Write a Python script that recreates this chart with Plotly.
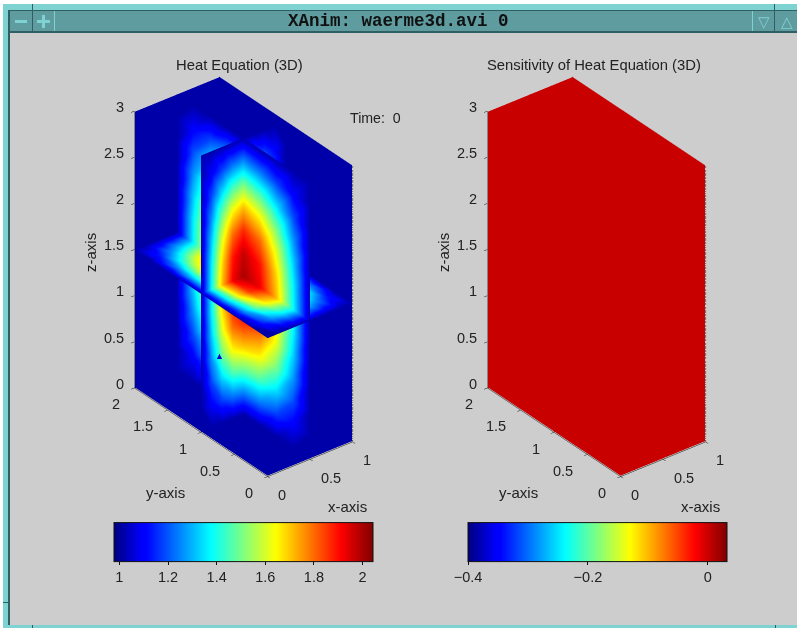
import plotly.graph_objects as go

# ---------- data ----------
x_nodes = [0, .125, .25, .375, .5, .625, .75, .875, 1]
y_nodes = [0, .25, .5, .75, 1, 1.25, 1.5, 1.75, 2]
z_nodes = [0, .25, .5, .75, 1, 1.25, 1.5, 1.75, 2, 2.25, 2.5, 2.75, 3]

# temperature on the plane x = 0.5 (rows z, columns y)
heat_x05 = [
    [1.02, 1.02, 1.02, 1.02, 1.02, 1.02, 1.02, 1.02, 1.02],
    [1.02, 1.10, 1.18, 1.24, 1.26, 1.24, 1.18, 1.10, 1.02],
    [1.02, 1.19, 1.35, 1.46, 1.50, 1.46, 1.35, 1.19, 1.02],
    [1.02, 1.27, 1.50, 1.65, 1.71, 1.65, 1.50, 1.27, 1.02],
    [1.02, 1.33, 1.61, 1.80, 1.87, 1.80, 1.61, 1.33, 1.02],
    [1.02, 1.37, 1.68, 1.89, 1.97, 1.89, 1.68, 1.37, 1.02],
    [1.02, 1.38, 1.71, 1.92, 2.00, 1.92, 1.71, 1.38, 1.02],
    [1.02, 1.37, 1.68, 1.89, 1.97, 1.89, 1.68, 1.37, 1.02],
    [1.02, 1.33, 1.61, 1.80, 1.87, 1.80, 1.61, 1.33, 1.02],
    [1.02, 1.27, 1.50, 1.65, 1.71, 1.65, 1.50, 1.27, 1.02],
    [1.02, 1.19, 1.35, 1.46, 1.50, 1.46, 1.35, 1.19, 1.02],
    [1.02, 1.10, 1.18, 1.24, 1.26, 1.24, 1.18, 1.10, 1.02],
    [1.02, 1.02, 1.02, 1.02, 1.02, 1.02, 1.02, 1.02, 1.02],
]
# temperature on the plane y = 1 (rows z, columns x)
heat_y1 = [
    [1.02, 1.02, 1.02, 1.02, 1.02, 1.02, 1.02, 1.02, 1.02],
    [1.02, 1.10, 1.18, 1.24, 1.26, 1.24, 1.18, 1.10, 1.02],
    [1.02, 1.19, 1.35, 1.46, 1.50, 1.46, 1.35, 1.19, 1.02],
    [1.02, 1.27, 1.50, 1.65, 1.71, 1.65, 1.50, 1.27, 1.02],
    [1.02, 1.33, 1.61, 1.80, 1.87, 1.80, 1.61, 1.33, 1.02],
    [1.02, 1.37, 1.68, 1.89, 1.97, 1.89, 1.68, 1.37, 1.02],
    [1.02, 1.38, 1.71, 1.92, 2.00, 1.92, 1.71, 1.38, 1.02],
    [1.02, 1.37, 1.68, 1.89, 1.97, 1.89, 1.68, 1.37, 1.02],
    [1.02, 1.33, 1.61, 1.80, 1.87, 1.80, 1.61, 1.33, 1.02],
    [1.02, 1.27, 1.50, 1.65, 1.71, 1.65, 1.50, 1.27, 1.02],
    [1.02, 1.19, 1.35, 1.46, 1.50, 1.46, 1.35, 1.19, 1.02],
    [1.02, 1.10, 1.18, 1.24, 1.26, 1.24, 1.18, 1.10, 1.02],
    [1.02, 1.02, 1.02, 1.02, 1.02, 1.02, 1.02, 1.02, 1.02],
]
# temperature on the plane z = 1.5 (rows y, columns x)
heat_z15 = [
    [1.02, 1.02, 1.02, 1.02, 1.02, 1.02, 1.02, 1.02, 1.02],
    [1.02, 1.15, 1.27, 1.35, 1.38, 1.35, 1.27, 1.15, 1.02],
    [1.02, 1.27, 1.50, 1.65, 1.71, 1.65, 1.50, 1.27, 1.02],
    [1.02, 1.35, 1.65, 1.85, 1.92, 1.85, 1.65, 1.35, 1.02],
    [1.02, 1.38, 1.71, 1.92, 2.00, 1.92, 1.71, 1.38, 1.02],
    [1.02, 1.35, 1.65, 1.85, 1.92, 1.85, 1.65, 1.35, 1.02],
    [1.02, 1.27, 1.50, 1.65, 1.71, 1.65, 1.50, 1.27, 1.02],
    [1.02, 1.15, 1.27, 1.35, 1.38, 1.35, 1.27, 1.15, 1.02],
    [1.02, 1.02, 1.02, 1.02, 1.02, 1.02, 1.02, 1.02, 1.02],
]
wall_heat = 1.02       # value on the back walls (deep blue)
sensitivity = 0.0      # value of the sensitivity volume, all walls

heat_range = [0.98, 2.045]
sens_range = [-0.4, 0.032]
heat_ticks = [1, 1.2, 1.4, 1.6, 1.8, 2]
sens_ticks = [-0.4, -0.2, 0]
xticks = [0, 0.5, 1]
yticks = [0, 0.5, 1, 1.5, 2]
zticks = [0, 0.5, 1, 1.5, 2, 2.5, 3]

# ---------- styles ----------
JET = [[0, "#00007f"], [0.11, "#0000ff"], [0.125, "#0000ff"], [0.375, "#00ffff"],
       [0.625, "#ffff00"], [0.875, "#ff0000"], [1, "#7f0000"]]
GREY = "#cdcdcd"
TEAL = "#5f9ca0"
LIGHT = "#7fd2d2"
DARK = "#2f5f62"
FONT = "Liberation Sans"
TXT = "#222222"
NOLIGHT = dict(ambient=1, diffuse=0, specular=0, fresnel=0, roughness=1)
W, H = 797, 628
# the back walls sit a hair inside the box so the box edges do not fight with them
WALL_X, WALL_Y, WALL_Z = 0.995, 1.99, 0.01


def cbar(x0, ticks):
    return dict(orientation="h", lenmode="pixels", len=259, thicknessmode="pixels", thickness=39,
                x=x0 / W, xanchor="left", y=1 - 586 / H, yanchor="bottom", xpad=0, ypad=0,
                outlinecolor="#111", outlinewidth=1, tickmode="array", tickvals=ticks,
                ticktext=[str(v).replace("-", "\u2212") for v in ticks],
                ticks="outside", ticklen=3, tickcolor="#111",
                tickfont=dict(family=FONT, size=14.5, color=TXT))


def plane(xs, ys, zs, vals, scene, rng, bar=None):
    """One slice as a triangle mesh with per-vertex intensity (grids are rows x columns)."""
    nr, nc = len(xs), len(xs[0])
    flat = lambda g: [v for row in g for v in row]
    i, j, k = [], [], []
    for r in range(nr - 1):
        for c in range(nc - 1):
            a, b, d, e = r * nc + c, r * nc + c + 1, (r + 1) * nc + c, (r + 1) * nc + c + 1
            i += [a, b]
            j += [b, e]
            k += [d, d]
    return go.Mesh3d(x=flat(xs), y=flat(ys), z=flat(zs), i=i, j=j, k=k, intensity=flat(vals),
                     intensitymode="vertex", scene=scene, colorscale=JET, cmin=rng[0], cmax=rng[1],
                     lighting=NOLIGHT, flatshading=False, hoverinfo="skip",
                     showscale=bar is not None, colorbar=bar)


def const_rows(nrows, ncols, v):
    return [[v] * ncols for _ in range(nrows)]


def walls(scene, rng, v, bar):
    out = []
    xs, ys, zs = x_nodes, y_nodes, z_nodes
    out.append(plane([[WALL_X] * len(ys) for _ in zs], [list(ys) for _ in zs],
                     [[z] * len(ys) for z in zs], const_rows(len(zs), len(ys), v), scene, rng, bar))
    out.append(plane([list(xs) for _ in zs], [[WALL_Y] * len(xs) for _ in zs],
                     [[z] * len(xs) for z in zs], const_rows(len(zs), len(xs), v), scene, rng))
    out.append(plane([list(xs) for _ in ys], [[y] * len(xs) for y in ys],
                     [[WALL_Z] * len(xs) for _ in ys], const_rows(len(ys), len(xs), v), scene, rng))
    return out


def slices(scene, rng, vx, vy, vz):
    xs, ys, zs = x_nodes, y_nodes, z_nodes
    return [
        plane([[0.5] * len(ys) for _ in zs], [list(ys) for _ in zs],
              [[z] * len(ys) for z in zs], vx, scene, rng),
        plane([list(xs) for _ in zs], [[1] * len(xs) for _ in zs],
              [[z] * len(xs) for z in zs], vy, scene, rng),
        plane([list(xs) for _ in ys], [[y] * len(xs) for y in ys],
              [[1.5] * len(xs) for _ in ys], vz, scene, rng),
    ]


def dotted_edge(scene):
    return go.Scatter3d(x=[1, 1], y=[0, 0], z=[zticks[0], zticks[-1]], mode="lines", scene=scene,
                        line=dict(color="#111111", width=2, dash="dot"), hoverinfo="skip",
                        showlegend=False)


fig = go.Figure()
for t in walls("scene", heat_range, wall_heat, cbar(114.5, heat_ticks)) + slices(
        "scene", heat_range, heat_x05, heat_y1, heat_z15):
    fig.add_trace(t)
for t in walls("scene2", sens_range, sensitivity, cbar(468, sens_ticks)) + slices(
        "scene2", sens_range,
        const_rows(len(z_nodes), len(y_nodes), sensitivity),
        const_rows(len(z_nodes), len(x_nodes), sensitivity),
        const_rows(len(y_nodes), len(x_nodes), sensitivity)):
    fig.add_trace(t)
fig.add_trace(dotted_edge("scene"))
fig.add_trace(dotted_edge("scene2"))


def axis(vals, rng):
    return dict(range=rng, tickvals=vals, showticklabels=False, showbackground=False,
                showgrid=False, zeroline=False, showline=True, linecolor="#111", linewidth=1,
                ticks="outside", ticklen=4, tickcolor="#111", title=dict(text=""), showspikes=False)


def tick_note(x, y, z, val, anchor, xs, ys):
    return dict(x=x, y=y, z=z, text=str(val), showarrow=False, xanchor=anchor, yanchor="middle",
                xshift=xs, yshift=ys, font=dict(family=FONT, size=14.5, color=TXT))


def tick_notes():
    notes = [tick_note(0, 2, v, v, "right", -8, 4) for v in zticks]
    notes += [tick_note(0, v, 0, v, "right", -12, -16.5) for v in yticks]
    notes += [tick_note(v, 0, 0, v, "left", 9, -18.5) for v in xticks]
    return notes


def scene(dom_x, dom_y):
    return dict(domain=dict(x=dom_x, y=dom_y), aspectmode="manual",
                aspectratio=dict(x=0.453, y=0.906, z=1.36),
                xaxis=axis(xticks, [0, 1]), yaxis=axis(yticks, [0, 2]), zaxis=axis(zticks, [0, 3]),
                camera=dict(projection=dict(type="orthographic"),
                            eye=dict(x=-1.05, y=-1.34, z=1.04), up=dict(x=0, y=0, z=1),
                            center=dict(x=0, y=0, z=0)),
                annotations=tick_notes(), bgcolor="rgba(0,0,0,0)")


def band(x0, y0, x1, y1, fill):
    return dict(type="rect", xref="paper", yref="paper", x0=x0 / W, x1=x1 / W,
                y0=1 - y0 / H, y1=1 - y1 / H, fillcolor=fill, line_width=0, layer="below")


def label(x, y, text, size=14.8, angle=0, color=TXT, family=FONT, weight="normal"):
    return dict(x=x / W, y=1 - y / H, xref="paper", yref="paper", text=text, showarrow=False,
                font=dict(family=family, size=size, color=color, weight=weight), textangle=angle,
                xanchor="center", yanchor="middle")


shapes = [
    band(0, 0, 797, 4, "#ffffff"), band(0, 0, 3, 628, "#ffffff"),
    band(3, 4, 797, 10, LIGHT), band(3, 4, 10, 628, LIGHT),
    band(8, 10, 10, 628, DARK), band(3, 625, 797, 628, LIGHT),
    band(8, 10, 797, 11, DARK), band(10, 11, 797, 31, TEAL), band(10, 31, 797, 33, DARK),
    band(32, 4, 33, 31, DARK), band(54, 11, 55, 31, LIGHT), band(752, 11, 753, 31, LIGHT),
    band(774, 4, 775, 31, DARK), band(3, 602, 9, 603, DARK),
    band(32, 625, 33, 628, DARK), band(775, 625, 776, 628, DARK),
    band(15, 20, 27, 23, LIGHT), band(37, 20, 50, 23, LIGHT), band(42, 15, 45, 28, LIGHT),
]

annotations = [
    label(398, 21, "XAnim: waerme3d.avi 0", 17.5, color="#111", family="Liberation Mono", weight="bold"),
    label(240, 65, "Heat Equation (3D)"), label(594, 65, "Sensitivity of Heat Equation (3D)"),
    label(375, 118, "Time:  0", 14.2),
    label(91, 253, "z-axis", 15, angle=-90), label(444, 253, "z-axis", 15, angle=-90),
    label(165, 492, "y-axis", 15), label(518, 492, "y-axis", 15),
    label(347, 506, "x-axis", 15), label(700, 506, "x-axis", 15),
    label(764, 21, "\u25bd", 15, color=LIGHT), label(787, 21, "\u25b3", 15, color=LIGHT),
    label(219, 356, "\u25b2", 9, color="#0000c0"),
]

fig.update_layout(
    width=W, height=H, margin=dict(l=0, r=0, t=0, b=0), paper_bgcolor=GREY, showlegend=False,
    scene=scene([0.085, 0.525], [0.18, 0.94]),
    scene2=scene([0.528, 0.968], [0.18, 0.94]),
    shapes=shapes, annotations=annotations,
)
fig.write_html("out.html", config=dict(displayModeBar=False),
               post_script="document.body.style.margin='0';document.body.style.overflow='hidden';")
